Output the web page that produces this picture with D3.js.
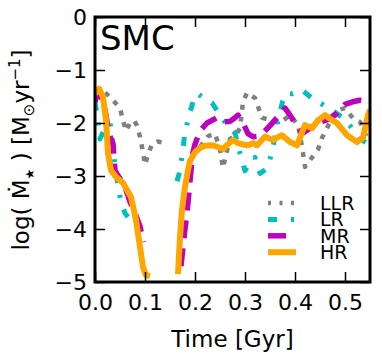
<!DOCTYPE html>
<html>
<head>
<meta charset="utf-8">
<script src="https://cdn.jsdelivr.net/npm/d3@7"></script>
<style>
  html, body { margin: 0; padding: 0; background: #fff; }
  svg { display: block; font-family: 'DejaVu Sans', sans-serif; }
</style>
</head>
<body>
<div id="chart"></div>
<script>
// Star formation rate, SMC, four resolutions (null = gap, below plot floor)
const llrTime = [0, 0.01, 0.02, 0.036, 0.05, 0.056, 0.062, 0.07, 0.078, 0.084, 0.09, 0.095, 0.1, 0.106, 0.114, 0.125, 0.14, 0.15,
  0.21, 0.226, 0.24, 0.25, 0.256, 0.262, 0.27, 0.28, 0.29, 0.296, 0.304, 0.32, 0.334, 0.35, 0.37, 0.39, 0.406, 0.415, 0.42, 0.43,
  0.446, 0.454, 0.464, 0.476, 0.488, 0.5, 0.516, 0.53, 0.545, 0.55];
const llrSfr = [-1.45, -1.38, -1.42, -1.57, -1.72, -1.95, -2.15, -2.0, -1.95, -2.05, -2.26, -2.5, -2.79, -2.6, -2.4, -2.35, -2.38, null,
  -2.45, -2.25, -2.2, -2.5, -2.85, -2.6, -2.3, -2.25, -2.1, -1.6, -1.43, -1.53, -1.9, -1.95, -2.0, -1.85, -2.04, -2.5, -2.83, -2.7,
  -2.5, -2.28, -2.1, -1.85, -1.75, -1.72, -1.91, -1.98, -2.3, -2.35];

const lrTime = [0, 0.005, 0.01, 0.02, 0.03, 0.036, 0.04, 0.046, 0.052, 0.06, 0.07, 0.09, 0.112, 0.12,
  0.164, 0.17, 0.175, 0.18, 0.19, 0.2, 0.206, 0.22, 0.234, 0.25, 0.26, 0.28, 0.29, 0.3, 0.31, 0.32, 0.33, 0.345, 0.355, 0.365,
  0.375, 0.384, 0.395, 0.414, 0.434, 0.45, 0.464, 0.48, 0.494, 0.51, 0.52, 0.53, 0.544, 0.55];
const lrSfr = [-1.6, -1.9, -2.3, -2.1, -2.0, -2.4, -2.85, -3.17, -3.5, -3.7, -3.83, -3.9, -3.87, null,
  -3.1, -2.9, -2.55, -2.17, -1.8, -1.47, -1.45, -1.55, -1.62, -1.85, -1.98, -2.19, -2.57, -2.9, -2.75, -2.65, -2.95, -2.85, -2.5, -2.0,
  -1.6, -1.43, -1.45, -1.38, -1.53, -1.62, -1.7, -1.8, -1.89, -2.05, -2.17, -2.3, -2.38, -2.4];

const mrTime = [0, 0.006, 0.012, 0.02, 0.028, 0.036, 0.04, 0.05, 0.06, 0.07, 0.08, 0.09, 0.097, 0.12,
  0.172, 0.18, 0.184, 0.19, 0.195, 0.2, 0.21, 0.224, 0.244, 0.256, 0.27, 0.28, 0.286, 0.296, 0.306, 0.316, 0.326, 0.336, 0.35,
  0.364, 0.38, 0.39, 0.404, 0.416, 0.43, 0.445, 0.464, 0.48, 0.5, 0.515, 0.53, 0.55];
const mrSfr = [-1.6, -1.42, -1.5, -1.75, -2.2, -2.4, -2.9, -3.05, -3.2, -3.49, -3.7, -3.95, -4.25, null,
  -4.7, -4.0, -3.7, -3.1, -2.6, -2.4, -2.15, -2.0, -1.9, -1.98, -1.97, -1.9, -1.85, -2.0, -2.2, -2.26, -2.25, -2.19, -2.05,
  -1.9, -1.72, -1.85, -2.07, -2.19, -2.1, -2.0, -1.94, -1.85, -1.65, -1.6, -1.57, -1.6];

const hrTime = [0, 0.008, 0.016, 0.022, 0.026, 0.032, 0.042, 0.056, 0.072, 0.082, 0.09, 0.096, 0.102, 0.11, 0.13,
  0.166, 0.17, 0.174, 0.18, 0.186, 0.19, 0.2, 0.21, 0.22, 0.236, 0.256, 0.266, 0.276, 0.286, 0.294, 0.306, 0.316, 0.324, 0.34,
  0.356, 0.374, 0.39, 0.404, 0.42, 0.434, 0.446, 0.46, 0.47, 0.484, 0.504, 0.524, 0.536, 0.546, 0.55];
const hrSfr = [-1.45, -1.35, -1.51, -1.94, -2.57, -2.89, -3.02, -3.13, -3.4, -3.83, -4.34, -4.72, -4.87, -4.89, null,
  -4.85, -4.15, -3.64, -3.2, -2.89, -2.72, -2.55, -2.47, -2.43, -2.42, -2.49, -2.4, -2.32, -2.38, -2.4, -2.42, -2.38, -2.42, -2.26,
  -2.32, -2.23, -2.36, -2.42, -2.04, -2.1, -1.95, -1.85, -1.92, -2.0, -2.23, -2.36, -2.28, -1.85, -1.75];

const seriesNames = ['LLR', 'LR', 'MR', 'HR'];
const xTicks = [0, 0.1, 0.2, 0.3, 0.4, 0.5];
const yTicks = [0, -1, -2, -3, -4, -5];

const width = 382, height = 362;
const margin = { top: 17, right: 12, bottom: 80, left: 95 };
const plotW = width - margin.left - margin.right;
const plotH = height - margin.top - margin.bottom;

const series = [
  { name: 'LLR', time: llrTime, sfr: llrSfr, color: '#808080', width: 4.5, dash: '5,7' },
  { name: 'LR', time: lrTime, sfr: lrSfr, color: '#00bfbf', width: 5, dash: '9,12,3,12' },
  { name: 'MR', time: mrTime, sfr: mrSfr, color: '#bf00bf', width: 5.5, dash: '18,10' },
  { name: 'HR', time: hrTime, sfr: hrSfr, color: '#ffa500', width: 6, dash: null }
];

const x = d3.scaleLinear().domain([0, 0.55]).range([0, plotW]);
const y = d3.scaleLinear().domain([-5, 0]).range([plotH, 0]);

const svg = d3.select('#chart').append('svg')
  .attr('width', width)
  .attr('height', height);

const g = svg.append('g')
  .attr('transform', `translate(${margin.left},${margin.top})`);

g.append('clipPath').attr('id', 'clip')
  .append('rect').attr('width', plotW).attr('height', plotH);

// Lines
const line = d3.line()
  .defined(d => d[1] != null)
  .x(d => x(d[0]))
  .y(d => y(d[1]));

const lines = g.append('g').attr('clip-path', 'url(#clip)');
series.forEach(s => {
  const pts = s.time.map((t, i) => [t, s.sfr[i]]);
  lines.append('path')
    .attr('d', line(pts))
    .attr('fill', 'none')
    .attr('stroke', s.color)
    .attr('stroke-width', s.width)
    .attr('stroke-dasharray', s.dash)
    .attr('stroke-linejoin', 'round');
});

// Axes, ticks pointing inward on all sides
const fmtY = d => d === 0 ? '0' : '\u2212' + Math.abs(d);
const bottom = g.append('g').attr('transform', `translate(0,${plotH})`)
  .call(d3.axisBottom(x).tickValues(xTicks).tickFormat(d3.format('.1f')).tickSize(-10).tickPadding(0));
const left = g.append('g')
  .call(d3.axisLeft(y).tickValues(yTicks).tickFormat(fmtY).tickSize(-10).tickPadding(8));
g.append('g').call(d3.axisTop(x).tickValues(xTicks).tickFormat('').tickSize(-10));
g.append('g').attr('transform', `translate(${plotW},0)`)
  .call(d3.axisRight(y).tickValues(yTicks).tickFormat('').tickSize(-10));

g.selectAll('.domain').remove();
g.selectAll('.tick line').attr('stroke', '#000').attr('stroke-width', 1.5);
g.selectAll('.tick text').attr('fill', '#000').attr('font-size', 22).attr('font-family', "'DejaVu Sans', sans-serif");
bottom.selectAll('.tick text').attr('y', 28).attr('dy', null);

g.append('rect')
  .attr('width', plotW).attr('height', plotH)
  .attr('fill', 'none').attr('stroke', '#000').attr('stroke-width', 3);

// Panel title
g.append('text')
  .attr('x', 5).attr('y', 33)
  .attr('font-size', 34)
  .text('SMC');

// Legend
const legend = svg.append('g');
series.forEach((s, i) => {
  const ly = 203 + i * 16.4;
  legend.append('line')
    .attr('x1', 268).attr('x2', 296)
    .attr('y1', ly).attr('y2', ly)
    .attr('stroke', s.color)
    .attr('stroke-width', s.width)
    .attr('stroke-dasharray', s.name === 'LLR' ? '3,8.5' : (s.name === 'LR' ? '9,14,3,14' : s.dash));
  legend.append('text')
    .attr('x', 320).attr('y', ly + 7)
    .attr('font-size', 19)
    .text(seriesNames[i]);
});

// Axis labels
svg.append('text')
  .attr('x', margin.left + plotW / 2).attr('y', 347)
  .attr('text-anchor', 'middle')
  .attr('font-size', 23)
  .text('Time [Gyr]');

const ylab = svg.append('text')
  .attr('transform', 'translate(29,150) rotate(-90)')
  .attr('text-anchor', 'middle')
  .attr('font-size', 23);
ylab.append('tspan').text('log( \u1E40');
ylab.append('tspan').attr('dy', 5).attr('font-size', 12).text('\u2605');
ylab.append('tspan').attr('dy', -5).text(' ) [M');
ylab.append('tspan').attr('dy', 5).attr('font-size', 15).text('\u2299');
ylab.append('tspan').attr('dy', -5).text('yr');
ylab.append('tspan').attr('dy', -9).attr('font-size', 15).text('\u22121');
ylab.append('tspan').attr('dy', 9).text(']');
</script>
</body>
</html>
